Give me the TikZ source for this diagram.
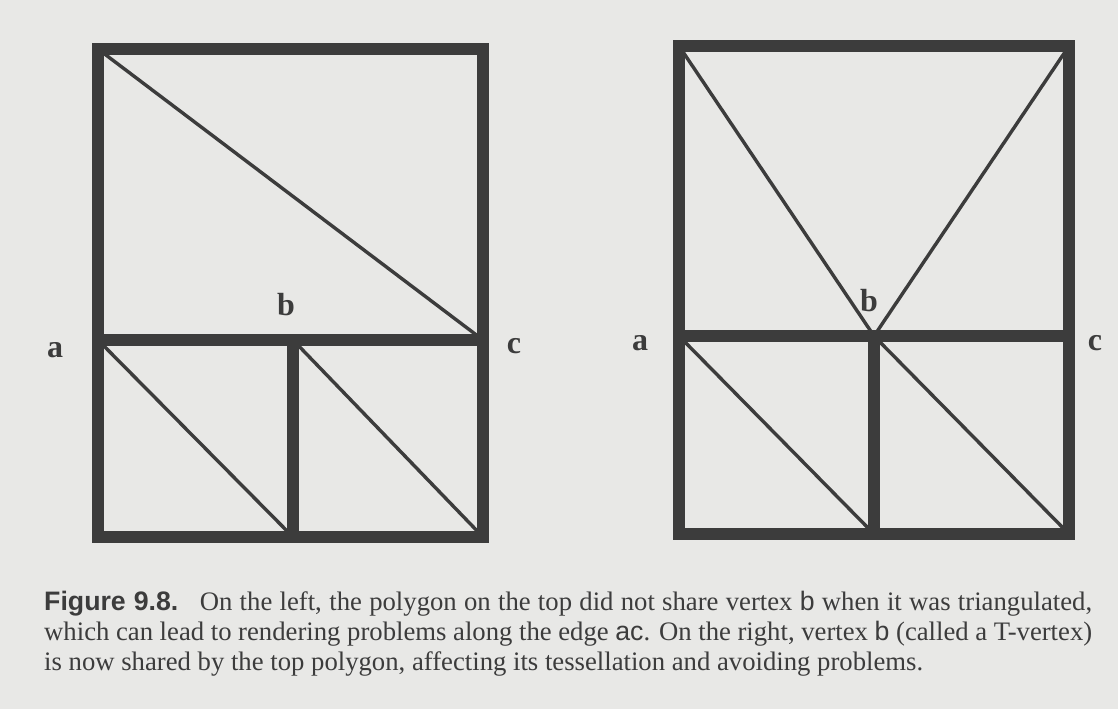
\documentclass[tikz,border=0pt]{standalone}
\usepackage{fontspec}
\setmainfont{Liberation Serif}
\newfontfamily\capsans{Liberation Sans}
\usetikzlibrary{positioning}

\begin{document}
\begin{tikzpicture}[x=1pt, y=-1pt, line join=miter,
		% Styles
		edge/.style={draw=InkGray, line width=12pt, line cap=rect},
		diag/.style={draw=InkGray, line width=3.4pt},
		vlabel/.style={text=InkGray, font=\fontsize{32}{32}\selectfont\bfseries, inner sep=0pt},
		capline/.style={text=InkGray, font=\fontsize{26.7}{26.7}\selectfont, anchor=base west, inner sep=0pt}
	]
	
	% Colors
	\definecolor{InkGray}{RGB}{60,60,60}
	\definecolor{PaperGray}{RGB}{232,232,230}
	
	\fill[PaperGray] (0,0) rectangle (1118,709);
	\useasboundingbox (0,0) rectangle (1118,709);
	
	% Left: top polygon ignores b
	\coordinate (LTL) at (98,49);
	\coordinate (LTR) at (483,49);
	\coordinate (LML) at (98,340);
	\coordinate (LMR) at (483,340);
	\coordinate (LBL) at (98,537);
	\coordinate (LBR) at (483,537);
	\coordinate (Lb) at (293,340);
	\coordinate (LBM) at (293,537);
	
	\draw[diag] (LTL) -- (LMR);
	\draw[diag] (LML) -- (LBM);
	\draw[diag] (Lb) -- (LBR);
	\draw[edge] (LTL) rectangle (LBR);
	\draw[edge] (LML) -- (LMR);
	\draw[edge] (Lb) -- (LBM);
	
	% Right: b shared by top polygon
	\coordinate (RTL) at (679,46);
	\coordinate (RTR) at (1069,46);
	\coordinate (RML) at (679,336);
	\coordinate (RMR) at (1069,336);
	\coordinate (RBL) at (679,534);
	\coordinate (RBR) at (1069,534);
	\coordinate (Rb) at (874,336);
	\coordinate (RBM) at (874,534);
	
	\draw[diag] (RTL) -- (Rb) -- (RTR);
	\draw[diag] (RML) -- (RBM);
	\draw[diag] (Rb) -- (RBR);
	\draw[edge] (RTL) rectangle (RBR);
	\draw[edge] (RML) -- (RMR);
	\draw[edge] (Rb) -- (RBM);
	
	% Vertex labels
	\node[vlabel] (La) at (55,350) {a};
	\node[vlabel] (LbTxt) at (286,305) {b};
	\node[vlabel] (Lc) at (514,346) {c};
	\node[vlabel] (Ra) at (640,343) {a};
	\node[vlabel] (RbTxt) at (869,301) {b};
	\node[vlabel] (Rc) at (1095,343) {c};
	
	% Caption
	\node[capline] (cap1) at (44,610) {\makebox[1048pt][s]{{\capsans\bfseries Figure 9.8.}\hspace{0.4em} On the left, the polygon on the top did not share vertex {\capsans b} when it was triangulated,}};
	\node[capline] (cap2) at (44,640) {\makebox[1048pt][s]{which can lead to rendering problems along the edge {\capsans ac}. On the right, vertex {\capsans b} (called a T-vertex)}};
	\node[capline] (cap3) at (44,670) {is now shared by the top polygon, affecting its tessellation and avoiding problems.};
	
\end{tikzpicture}
\end{document}
